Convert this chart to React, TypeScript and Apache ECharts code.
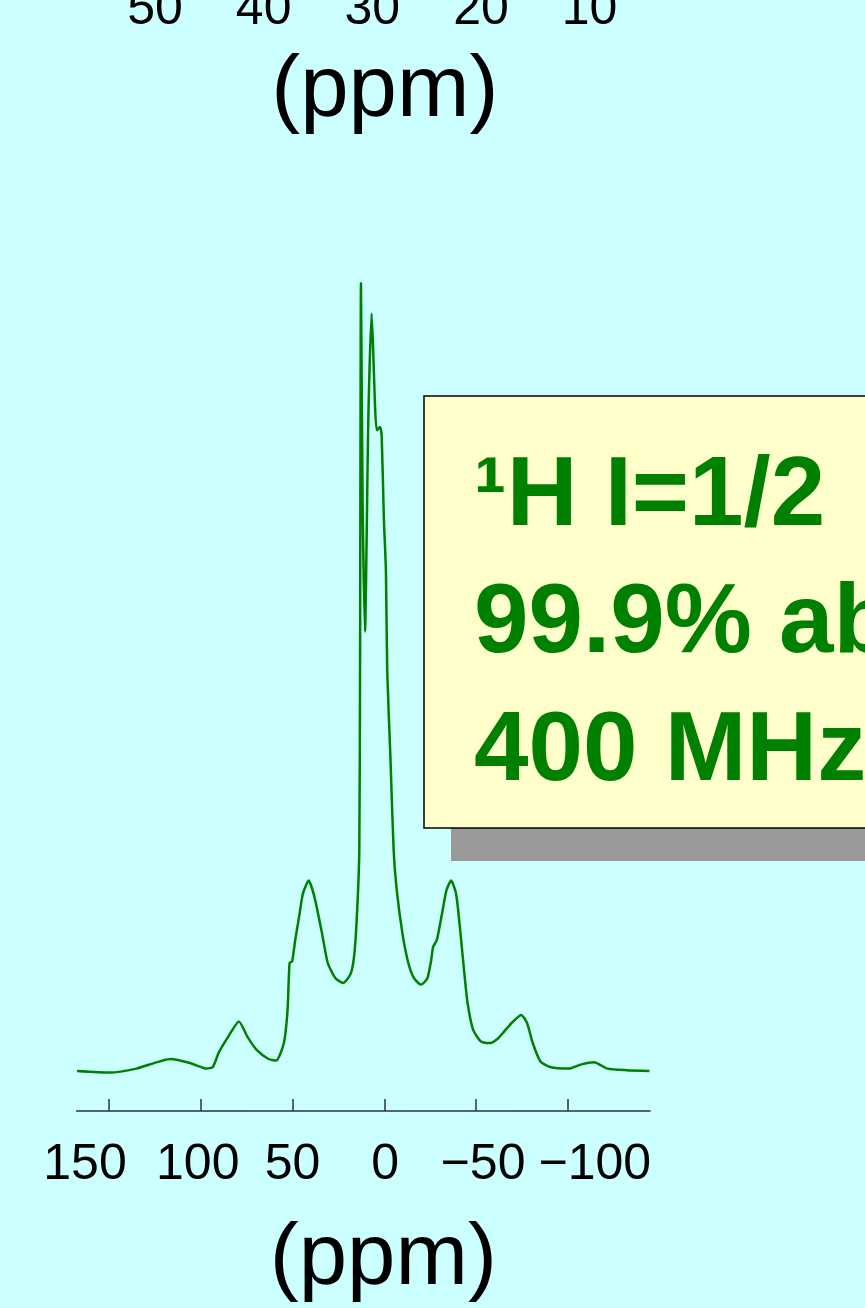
import React, { useEffect, useRef } from "react";
import * as echarts from "echarts";

// Spectrum trace (chemical shift in ppm, relative intensity)
const ppm = [
  167.4, 149.7, 135.1, 116.3, 105.9, 96.7, 93.4, 90.2, 85.0, 79.2,
  74.6, 69.4, 63.1, 58.9, 54.7, 52.7, 51.6, 50.2, 48.5, 46.4,
  44.3, 41.2, 38.1, 33.9, 30.8, 26.6, 22.4, 18.2, 16.1, 14.5,
  13.6, 13.2, 12.7, 11.8, 10.5, 8.7, 6.9, 6.0, 5.1, 4.1,
  2.3, 1.4, 0.2, -0.9, -1.6, -3.4, -5.1, -6.8, -9.9, -13.1,
  -16.2, -20.0, -23.5, -25.6, -26.6, -28.7, -31.8, -33.9, -36.4, -39.1,
  -41.2, -43.3, -45.4, -48.5, -52.7, -57.9, -62.1, -65.2, -69.4, -74.6,
  -77.8, -80.9, -85.1, -90.3, -100.7, -107.0, -114.3, -121.6, -132.0, -144.5,
];
const intensity = [
  0.0, -0.2, 0.3, 1.5, 1.0, 0.3, 0.5, 2.3, 4.3, 6.2,
  4.3, 2.6, 1.5, 1.3, 3.5, 7.6, 13.5, 13.7, 16.4, 19.3,
  22.2, 23.8, 21.8, 17.2, 13.5, 11.6, 11.0, 12.2, 15.1, 21.4,
  27.6, 50.1, 98.5, 71.0, 54.9, 81.4, 94.7, 89.8, 83.5, 80.1,
  80.5, 79.3, 68.9, 62.6, 50.1, 38.9, 27.6, 22.6, 17.2, 13.5,
  11.6, 10.8, 11.6, 13.9, 15.5, 16.4, 20.1, 22.6, 23.8, 22.2,
  18.0, 13.0, 8.5, 5.1, 3.7, 3.5, 4.1, 4.9, 6.0, 7.0,
  6.0, 3.5, 1.2, 0.5, 0.3, 0.8, 1.1, 0.3, 0.1, 0.0,
];

const bottomTicks = [150, 100, 50, 0, -50, -100];
const topTicks = [50, 40, 30, 20, 10];
const infoLines = ["\u00B9H I=1/2", "99.9% abundance", "400 MHz"];

const FONT = "'Liberation Sans', Arial, sans-serif";
const GREEN = "#008000";

function fmt(v: number) {
  return v < 0 ? "\u2212" + Math.abs(v) : String(v);
}

// small per-label nudges (rich keys) to mimic the original label spacing
const richKey: Record<string, string> = {
  "150": "a",
  "100": "b",
  "50": "c",
  "0": "d",
  "-50": "e",
  "-100": "f",
};

export default function App() {
  const ref = useRef<HTMLDivElement>(null);
  useEffect(() => {
    if (!ref.current) return;
    const chart = echarts.init(ref.current, undefined, { renderer: "svg" });
    const base = { fontSize: 50, fontFamily: FONT, color: "#000" };
    chart.setOption({
      animation: false,
      backgroundColor: "#CCFFFF",
      grid: [
        { left: 76.7, top: 271, width: 573.3, height: 840 },
        { left: 46.4, top: -60, width: 651.85, height: 10 },
      ],
      xAxis: [
        {
          type: "value",
          gridIndex: 0,
          min: -144.8,
          max: 167.6,
          inverse: true,
          splitLine: { show: false },
          axisLine: { onZero: false, lineStyle: { color: "#333", width: 1.5 } },
          axisTick: {
            inside: true,
            length: 12,
            customValues: bottomTicks,
            lineStyle: { color: "#333", width: 1.5 },
          },
          axisLabel: {
            customValues: bottomTicks,
            margin: 26,
            ...base,
            formatter: (v: number) => `{${richKey[String(v)] || "c"}|${fmt(v)}}`,
            rich: {
              a: { ...base, padding: [0, 48, 0, 0] },
              b: { ...base, padding: [0, 6, 0, 0] },
              c: { ...base },
              d: { ...base, padding: [0, 0, 0, 2] },
              e: { ...base, padding: [0, 0, 0, 14] },
              f: { ...base, padding: [0, 0, 0, 54] },
            },
          },
          name: "(ppm)",
          nameLocation: "middle",
          nameGap: 99,
          nameTextStyle: {
            fontSize: 87,
            fontFamily: FONT,
            color: "#000",
            padding: [0, 0, 0, 40],
          },
        },
        {
          type: "value",
          gridIndex: 1,
          min: 0,
          max: 60,
          inverse: true,
          splitLine: { show: false },
          axisLine: { show: false, onZero: false },
          axisTick: { show: false },
          axisLabel: {
            customValues: topTicks,
            margin: 29,
            ...base,
            formatter: (v: number) => fmt(v),
          },
          name: "(ppm)",
          nameLocation: "middle",
          nameGap: 89,
          nameTextStyle: {
            fontSize: 87,
            fontFamily: FONT,
            color: "#000",
            padding: [0, 0, 0, 25],
          },
        },
      ],
      yAxis: [
        { type: "value", gridIndex: 0, min: -5, max: 100, show: false },
        { type: "value", gridIndex: 1, min: 0, max: 1, show: false },
      ],
      series: [
        {
          type: "line",
          xAxisIndex: 0,
          yAxisIndex: 0,
          data: ppm.map((p, i) => [p, intensity[i]]),
          showSymbol: false,
          smooth: 0.2,
          lineStyle: { color: GREEN, width: 2.5 },
        },
      ],
      graphic: [
        {
          type: "rect",
          shape: { x: 451, y: 428, width: 500, height: 433 },
          style: { fill: "#999999" },
          z: 10,
        },
        {
          type: "rect",
          shape: { x: 424, y: 396, width: 500, height: 432 },
          style: { fill: "#FFFFCC", stroke: "#000", lineWidth: 1.5 },
          z: 11,
        },
        ...infoLines.map((t, i) => ({
          type: "text",
          x: 474,
          y: [491, 618, 746][i],
          z: 12,
          style: {
            text: t,
            fill: GREEN,
            fontSize: 98,
            fontWeight: "bold",
            fontFamily: FONT,
            verticalAlign: "middle",
            align: "left",
          },
        })),
      ],
    });
    return () => chart.dispose();
  }, []);
  return (
    <div
      ref={ref}
      style={{
        position: "fixed",
        left: 0,
        top: 0,
        width: 865,
        height: 1308,
        background: "#CCFFFF",
      }}
    />
  );
}
